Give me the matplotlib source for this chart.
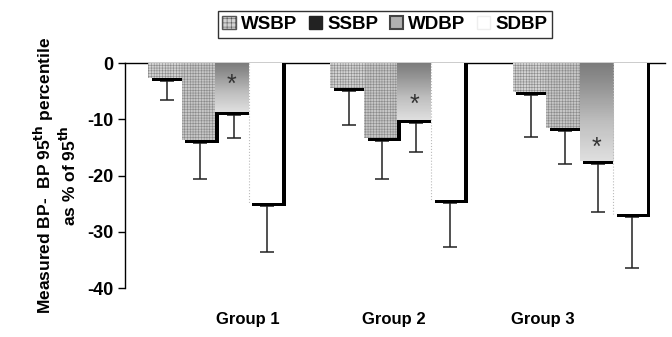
import numpy as np
import matplotlib.pyplot as plt
from matplotlib.patches import Patch

### Data
groups = ['Group 1', 'Group 2', 'Group 3']
series = ['WSBP', 'SSBP', 'WDBP', 'SDBP']
wsbp = [-2.7, -4.5, -5.1]
ssbp = [-13.7, -13.3, -11.6]
wdbp = [-8.7, -10.1, -17.4]
sdbp = [-24.8, -24.3, -26.8]
wsbp_err = [3.3, 6.0, 7.5]
ssbp_err = [6.3, 6.7, 5.8]
wdbp_err = [4.0, 5.2, 8.5]
sdbp_err = [8.2, 7.9, 9.1]
star_y = [-3.9, -7.5, -15.0]

values = [wsbp, ssbp, wdbp, sdbp]
errors = [wsbp_err, ssbp_err, wdbp_err, sdbp_err]
faces = ['#d2d2d2', '#c6c6c6', '#bdbdbd', 'white']
hatches = ['++++++', '++++++', '', '']

plt.rcParams['font.family'] = ['Liberation Sans', 'DejaVu Sans']
plt.rcParams['font.weight'] = 'bold'
plt.rcParams['hatch.linewidth'] = 0.4
plt.rcParams['hatch.color'] = '#8a8a8a'

fig = plt.figure(figsize=(6.72, 3.37), dpi=100)
ax = fig.add_axes([0.186, 0.145, 0.804, 0.668])

x = np.arange(len(groups))
w = 0.184
dx, dy = 0.02, 0.55
for i, (vals, errs) in enumerate(zip(values, errors)):
    pos = x + (i - 1.5) * w
    # shadow
    ax.bar(pos + dx, np.array(vals) - dy, width=w, bottom=0, color='black',
           zorder=2)
    ax.bar(pos, vals, width=w, color=faces[i], edgecolor='#8a8a8a', lw=0,
           hatch=hatches[i], zorder=3)
    if i == 2:
        # gradient look for WDBP (darker at top)
        for j, v in enumerate(vals):
            grad = np.linspace(1, 0, 50).reshape(-1, 1)
            ax.imshow(grad, extent=[pos[j] - w / 2, pos[j] + w / 2, v, 0],
                      cmap='Greys', vmin=-0.6, vmax=2.1, aspect='auto',
                      zorder=3.5)
    if i == 3:
        for j, v in enumerate(vals):
            ax.plot([pos[j] - w / 2] * 2, [0, v], color='#bbbbbb', lw=0.8,
                    ls=':', zorder=4)
    ax.errorbar(pos + dx / 2, np.array(vals) - dy, yerr=[errs, [0] * 3],
                fmt='none', ecolor='#222222', elinewidth=1.1, capsize=5,
                capthick=1.1, zorder=1)

for j in range(len(groups)):
    ax.text(x[j] + 0.5 * w, star_y[j], '*', ha='center', va='center',
            fontsize=18, fontweight='normal', color='#333333', zorder=5)

ax.set_xlim(-0.495, 2.47)
ax.set_ylim(-40, 0)
ax.set_yticks([0, -10, -20, -30, -40])
ax.set_yticklabels(['0', '-10', '-20', '-30', '-40'], fontsize=13,
                   fontweight='bold')
ax.tick_params(axis='y', length=5, width=1)
ax.set_xticks([0.18, 0.98, 1.80])
ax.set_xticklabels(groups, fontsize=12, fontweight='bold')
ax.tick_params(axis='x', length=0, pad=17)
ax.spines['right'].set_visible(False)
ax.spines['bottom'].set_visible(False)
ax.spines['top'].set_linewidth(1)
ax.spines['left'].set_linewidth(1)
ax.set_ylabel('Measured BP-  BP 95$^{\\mathbf{th}}$ percentile\nas % of 95$^{\\mathbf{th}}$',
              fontsize=12.5, fontweight='bold', labelpad=6, linespacing=1.1)

handles = [Patch(facecolor=faces[0], edgecolor='#555555', hatch='++++'),
           Patch(facecolor='#222222', edgecolor='#222222'),
           Patch(facecolor='#b0b0b0', edgecolor='#444444', lw=1.5),
           Patch(facecolor='white', edgecolor='#eeeeee')]
leg = fig.legend(handles, series, loc='upper center',
                 bbox_to_anchor=(0.573, 0.995), ncol=4, frameon=True,
                 fancybox=False, edgecolor='black', handlelength=0.7,
                 handleheight=0.7, handletextpad=0.3, columnspacing=0.6,
                 borderpad=0.25, prop={'size': 13.5, 'weight': 'bold'})

fig.savefig('out.png', dpi=100)
